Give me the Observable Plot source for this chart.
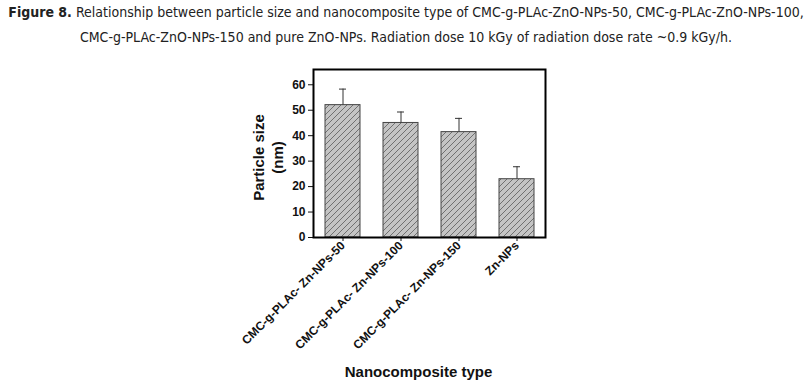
<!DOCTYPE html>
<html>
<head>
<meta charset="utf-8">
<script src="https://cdn.jsdelivr.net/npm/d3@7"></script>
<script src="https://cdn.jsdelivr.net/npm/@observablehq/plot@0.6"></script>
<style>
  html, body { margin: 0; padding: 0; background: #fff; }
  #wrap { position: relative; width: 812px; height: 387px; overflow: hidden; }
  #title { position: absolute; left: 0; top: 0; width: 812px; text-align: center;
           font-family: "Liberation Sans Narrow", "DejaVu Sans Condensed", sans-serif;
           font-size: 14px; line-height: 25px; color: #222; white-space: nowrap; }
  #chart { position: absolute; left: 0; top: 50px; }
  #chart svg text { font-family: "Liberation Sans", Arial, sans-serif; }
</style>
</head>
<body>
<div id="wrap">
  <div id="title"></div>
  <div id="chart"></div>
</div>
<script>
const titleLead = "Figure 8.";
const titleLine1 = " Relationship between particle size and nanocomposite type of CMC-g-PLAc-ZnO-NPs-50, CMC-g-PLAc-ZnO-NPs-100,";
const titleLine2 = "CMC-g-PLAc-ZnO-NPs-150 and pure ZnO-NPs. Radiation dose 10 kGy of radiation dose rate ~0.9 kGy/h.";

const categories = ["CMC-g-PLAc- Zn-NPs-50", "CMC-g-PLAc- Zn-NPs-100", "CMC-g-PLAc- Zn-NPs-150", "Zn-NPs"];
const sizes = [52, 45, 41.4, 22.9];
const errUpper = [58.3, 49.3, 46.8, 27.8];
const yTicks = [0, 10, 20, 30, 40, 50, 60];
const yLabel = "Particle size\n(nm)";
const xLabel = "Nanocomposite type";

const t = document.getElementById("title");
const b = document.createElement("b");
b.textContent = titleLead;
t.appendChild(b);
t.appendChild(document.createTextNode(titleLine1));
t.appendChild(document.createElement("br"));
t.appendChild(document.createTextNode(titleLine2));

const data = categories.map((c, i) => ({name: c, value: sizes[i], hi: errUpper[i]}));

const chart = Plot.plot({
  width: 812,
  height: 337,
  marginLeft: 313,
  marginRight: 267,
  marginTop: 19,
  marginBottom: 150,
  style: {fontFamily: "'Liberation Sans', Arial, sans-serif", color: "#111", background: "#fff"},
  x: {type: "band", domain: categories, paddingInner: 0.4, paddingOuter: 0.2},
  y: {domain: [0, 66]},
  marks: [
    Plot.barY(data, {x: "name", y: "value", fill: "url(#hatch)", stroke: "#444", strokeWidth: 1}),
    Plot.ruleX(data, {x: "name", y1: "value", y2: "hi", stroke: "#333", strokeWidth: 1}),
    Plot.tickY(data, {x: "name", y: "hi", stroke: "#333", strokeWidth: 1, insetLeft: 14, insetRight: 14}),
    Plot.axisY({ticks: yTicks, tickSize: 5, tickPadding: 3, fontSize: 12, fontWeight: "bold", label: null, stroke: "#111"}),
    Plot.axisX({tickSize: 4, tickPadding: 2, tickRotate: -45, fontSize: 12, fontWeight: "bold", label: null, stroke: "#111"}),
    Plot.frame({stroke: "#000", strokeWidth: 2}),
    Plot.text([yLabel], {frameAnchor: "left", textAnchor: "middle", dx: -46, dy: 4, rotate: -90, fontSize: 15, fontWeight: "bold", lineHeight: 1.27, fill: "#111"}),
    Plot.text([xLabel], {frameAnchor: "bottom", dx: -11, dy: 139, fontSize: 15, fontWeight: "bold", fill: "#111"})
  ]
});

const svg = d3.select(chart);
const defs = svg.insert("defs", ":first-child");
const pat = defs.append("pattern")
  .attr("id", "hatch")
  .attr("patternUnits", "userSpaceOnUse")
  .attr("width", 6).attr("height", 6);
pat.append("rect").attr("width", 6).attr("height", 6).attr("fill", "#c4c4c4");
pat.append("path").attr("d", "M-1,1 l2,-2 M0,6 l6,-6 M5,7 l2,-2")
  .attr("stroke", "#5a5a5a").attr("stroke-width", 0.8);

document.getElementById("chart").appendChild(chart);
</script>
</body>
</html>
